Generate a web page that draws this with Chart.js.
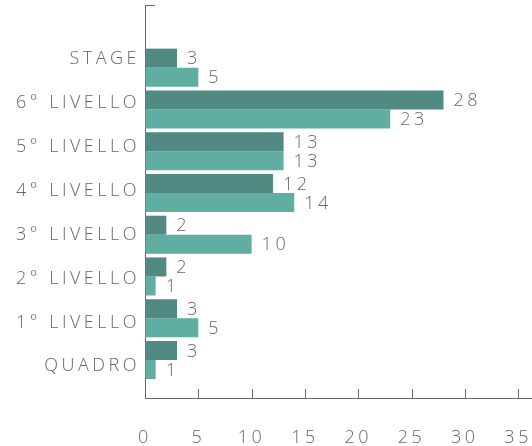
<!DOCTYPE html>
<html>
<head>
<meta charset="utf-8">
<script src="https://cdn.jsdelivr.net/npm/chart.js@4/dist/chart.umd.min.js"></script>
<style>
  html, body { margin: 0; padding: 0; background: #fff; }
</style>
</head>
<body>
<canvas id="chart" width="532" height="446"></canvas>
<script>
// levels, top to bottom
const categories = ['STAGE', '6° LIVELLO', '5° LIVELLO', '4° LIVELLO', '3° LIVELLO', '2° LIVELLO', '1° LIVELLO', 'QUADRO']
const seriesA = [3, 28, 13, 12, 2, 2, 3, 3]
const seriesB = [5, 23, 13, 14, 10, 1, 5, 1]
const xTicks = [0, 5, 10, 15, 20, 25, 30, 35]

const textColor = '#666666'
const axisColor = '#6a6a6a'
const fontFamily = '"Open Sans", sans-serif'
const letterSpacing = '3.5px'
const fontSize = 18

// category labels sit on a slightly wider pitch than the bars
const labelPitch = 1.05
const labelShift = -0.2

// canvas letter spacing has to be set again after every resize/update
const spacingPlugin = {
  id: 'spacing',
  beforeUpdate(chart) { chart.ctx.letterSpacing = letterSpacing },
  beforeDraw(chart) { chart.ctx.letterSpacing = letterSpacing },
}

// inner ticks on the x axis, the stub on top of the y axis and the value labels
const extrasPlugin = {
  id: 'extras',
  afterDraw(chart) {
    const ctx = chart.ctx
    const xs = chart.scales.x
    const area = chart.chartArea
    ctx.save()
    ctx.strokeStyle = axisColor
    ctx.lineWidth = 1
    ctx.beginPath()
    xTicks.forEach(v => {
      if (v === 0) return
      const px = Math.round(xs.getPixelForValue(v)) + 0.5
      ctx.moveTo(px, area.bottom)
      ctx.lineTo(px, area.bottom - 9)
    })
    ctx.moveTo(area.left, area.top + 0.5)
    ctx.lineTo(area.left + 10, area.top + 0.5)
    ctx.stroke()

    ctx.letterSpacing = letterSpacing
    ctx.fillStyle = textColor
    ctx.font = '300 ' + fontSize + 'px ' + fontFamily
    ctx.textAlign = 'left'
    ctx.textBaseline = 'middle'
    chart.data.datasets.forEach((ds, di) => {
      chart.getDatasetMeta(di).data.forEach((bar, i) => {
        ctx.fillText(String(ds.data[i].x), bar.x + 10, bar.y + 1)
      })
    })
    ctx.restore()
  }
}

const tickFont = { family: fontFamily, size: fontSize, weight: 300 }

const ctx = document.getElementById('chart').getContext('2d')
const chart = new Chart(ctx, {
  type: 'bar',
  plugins: [spacingPlugin, extrasPlugin],
  data: {
    datasets: [{
      data: seriesA.map((v, i) => ({ x: v, y: i })),
      backgroundColor: '#508a83',
      borderWidth: 0,
    }, {
      data: seriesB.map((v, i) => ({ x: v, y: i })),
      backgroundColor: '#60ada2',
      borderWidth: 0,
    }]
  },
  options: {
    indexAxis: 'y',
    responsive: false,
    animation: false,
    barPercentage: 1,
    categoryPercentage: 0.91,
    layout: { padding: { top: 5, left: 0, right: 0, bottom: 0 } },
    plugins: {
      legend: { display: false },
      tooltip: { enabled: false },
    },
    scales: {
      x: {
        type: 'linear',
        position: 'bottom',
        min: 0,
        max: 36.3,
        grid: { drawOnChartArea: false, drawTicks: false },
        border: { color: axisColor, width: 1 },
        ticks: {
          color: textColor,
          font: tickFont,
          padding: 29,
          maxRotation: 0,
        },
        afterBuildTicks: scale => { scale.ticks = xTicks.map(v => ({ value: v })) },
        afterFit: scale => {
          scale.height = 48
          scale.paddingLeft = 0
          scale.paddingRight = 0
        },
      },
      y: {
        type: 'linear',
        position: 'left',
        reverse: true,
        offset: false,
        min: -1.5,
        max: 7.91,
        grid: { drawOnChartArea: false, drawTicks: false, offset: false },
        border: { color: axisColor, width: 1 },
        ticks: {
          color: textColor,
          font: tickFont,
          padding: 5,
          callback: (v, i) => categories[i] || '',
        },
        afterBuildTicks: scale => {
          scale.ticks = categories.map((c, i) => ({ value: labelShift + i * labelPitch }))
        },
        afterFit: scale => {
          scale.width = 145
          scale.paddingTop = 0
          scale.paddingBottom = 0
        },
      }
    }
  }
})
</script>
</body>
</html>
